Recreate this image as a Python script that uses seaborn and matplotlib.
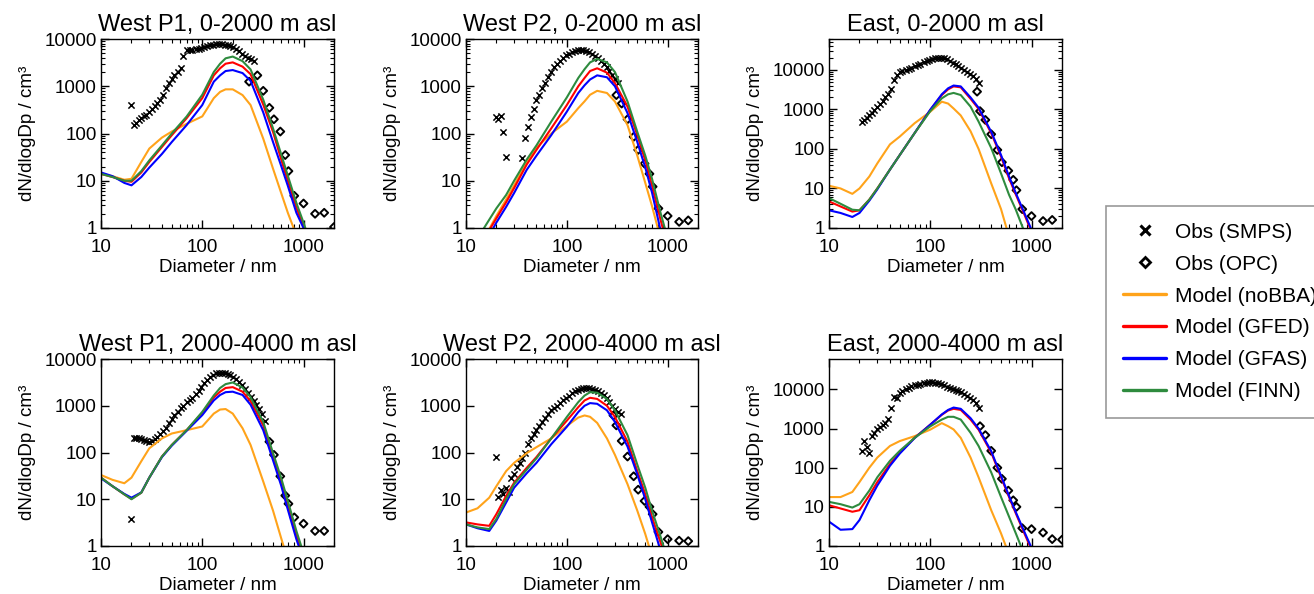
# Aerosol size distributions: observations vs model runs, 6 panels
import numpy as np
import matplotlib
matplotlib.use('Agg')
import matplotlib.pyplot as plt
from matplotlib.lines import Line2D
from matplotlib.ticker import NullFormatter
import seaborn as sns

nan = np.nan

# diameters (nm)
D_MODEL = [10, 13, 17, 20, 25, 30, 40, 50, 70, 100, 130, 150, 170, 200, 250, 300,
           400, 500, 600, 700, 850, 1000, 1200]
SMPS_D = [20, 21, 22, 23.5, 25, 26.5, 28, 30, 32, 34, 36, 38.5, 41, 44, 47, 50, 53, 57,
          61, 65, 70, 75, 80, 86, 92, 98, 105, 112, 120, 128, 137, 146, 156, 167, 178,
          190, 203, 217, 232, 248, 265, 283, 302, 322, 343, 365, 390, 415, 440]
OPC_D = [290, 310, 350, 400, 460, 510, 590, 660, 710, 810, 1000, 1300, 1600, 2000]

XTICKS = [10, 100, 1000]
YTICKS = [1, 10, 100, 1000, 10000]

MODEL_NAMES = ['Model (noBBA)', 'Model (GFED)', 'Model (GFAS)', 'Model (FINN)']
COLORS = ['#FFA31A', '#FF0000', '#0000FF', '#2E8B3E']

# West P1, 0-2000 m
W1_LO_NOBBA = [14, 12.5, 10.5, 11, 25, 48, 82, 110, 160, 230, 560, 760, 860, 860, 650, 400, 78, 18, 5.6, 2.1, 0.7, 0.3, 0.1]
W1_LO_GFED = [14, 12, 10, 9.5, 15, 25, 52, 92, 210, 560, 1700, 2400, 3000, 3200, 2600, 1800, 410, 108, 29, 10, 2.7, 1.1, 0.35]
W1_LO_GFAS = [15, 12.5, 9, 8, 12, 19, 37, 66, 150, 400, 1250, 1700, 2100, 2200, 1900, 1300, 280, 66, 21, 7.8, 2.1, 1.0, 0.3]
W1_LO_FINN = [14, 12, 10, 10, 16, 27, 56, 100, 228, 660, 2000, 3000, 3900, 4250, 3400, 2270, 520, 128, 37, 12.8, 3.4, 1.3, 0.4]
W1_LO_SMPS = [400, 150, 170, 190, 210, 230, 250, 290, 330, 390, 440, 520, 650, 900, 1150, 1400, 1700,
              2000, 2400, 4300, 5800, 5900, 5950, 6000, 6200, 6400, 6700, 7000, 7300, 7500, 7650,
              7700, 7700, 7600, 7400, 7100, 6700, 6100, 5500, 4900, 4400, 4000, 3700, 3500,
              nan, nan, nan, nan, nan]
W1_LO_OPC = [1250, nan, 1700, 800, 350, 200, 110, 35, 16, 4.8, 3.3, 2.0, 2.1, 1.05]

# West P2, 0-2000 m
W2_LO_NOBBA = [0.2, 0.4, 0.95, 1.8, 4, 8, 25, 50, 100, 178, 345, 480, 660, 800, 720, 475, 150, 34, 9, 2.9, 0.6, 0.2, 0.1]
W2_LO_GFED = [0.2, 0.4, 0.9, 1.6, 3.5, 7, 22, 45, 128, 400, 1000, 1500, 2100, 2400, 1940, 1170, 370, 92, 27, 7.8, 1.5, 0.4, 0.1]
W2_LO_GFAS = [0.15, 0.3, 0.7, 1.3, 2.8, 5.5, 17, 34, 92, 290, 720, 1050, 1390, 1700, 1550, 1000, 270, 66, 19, 5.6, 0.9, 0.3, 0.1]
W2_LO_FINN = [0.3, 0.6, 1.5, 2.6, 5, 10, 28, 56, 178, 580, 1500, 2300, 3200, 3800, 3200, 2000, 475, 108, 34, 11, 2.1, 0.6, 0.2]
W2_LO_SMPS = [220, 200, 230, 110, 32, nan, nan, nan, nan, nan, 30, 80, 140, 220, 330, 500, 650, 900,
              1200, 1550, 2000, 2500, 3000, 3500, 4000, 4500, 4900, 5300, 5600, 5800, 5900, 5900,
              5700, 5300, 4800, 4300, 3900, 3400, 2900, 2500, 2100, 1700, 1400, 1200,
              nan, nan, nan, nan, nan]
W2_LO_OPC = [nan, 650, 430, 200, 85, 45, 23, 14, 7.5, 2.6, 1.8, 1.35, 1.45, nan]

# East, 0-2000 m
E_LO_NOBBA = [11.7, 10, 7.3, 10, 20, 43, 130, 205, 445, 870, 1560, 1400, 1050, 700, 280, 100, 13.4, 3.0, 0.6, 0.2, 0.1, 0.1, 0.1]
E_LO_GFED = [4.7, 3.5, 2.6, 2.8, 5.2, 10, 30, 70, 250, 960, 2300, 3200, 3800, 3600, 1850, 1030, 250, 64, 18, 7, 2.2, 0.8, 0.3]
E_LO_GFAS = [2.8, 2.4, 1.9, 2.4, 4.9, 9.5, 30, 70, 250, 980, 2400, 3400, 4000, 3800, 2000, 1100, 270, 70, 20, 7.6, 2.4, 0.9, 0.3]
E_LO_FINN = [5.7, 4.1, 2.9, 2.8, 5.2, 10, 30, 70, 250, 900, 1900, 2400, 2600, 2300, 1170, 490, 105, 24, 6.9, 2.9, 0.8, 0.3, 0.1]
E_LO_SMPS = [nan, 490, 540, 620, 720, 820, 950, 1170, 1400, 1650, 2000, 2500, 3300, 5500, 7300, 8900,
             9400, 9900, 10300, 11200, 12300, 13300, 14300, 15300, 16300, 17300, 18500, 19500,
             20400, 20400, 19600, 18200, 16800, 15000, 13800, 12500, 11300, 10000, 8900, 7900,
             6800, 5700, 4700, nan, nan, nan, nan, nan, nan]
E_LO_OPC = [2800, 900, 540, 235, 94, 46, 28, 16.5, 9, 3, 2.0, 1.5, 1.6, nan]

# West P1, 2000-4000 m
W1_HI_NOBBA = [33, 26, 22, 29, 65, 123, 200, 255, 300, 360, 680, 830, 850, 680, 330, 145, 24, 5.7, 1.5, 0.5, 0.2, 0.1, 0.1]
W1_HI_GFED = [29, 19, 12.7, 10.2, 13.8, 29, 82, 145, 300, 700, 1500, 2000, 2400, 2500, 2000, 1250, 380, 82, 24, 7.5, 1.7, 0.6, 0.2]
W1_HI_GFAS = [28, 19, 13, 10.8, 14, 29, 80, 140, 290, 630, 1300, 1700, 1950, 2000, 1700, 1050, 300, 68, 20, 6, 1.4, 0.5, 0.2]
W1_HI_FINN = [29, 19, 12.7, 10, 13.8, 29, 82, 145, 300, 740, 1660, 2400, 2900, 3150, 2460, 1520, 450, 97, 29, 9.2, 2.1, 0.7, 0.2]
W1_HI_SMPS = [3.8, 200, 205, 200, 195, 185, 175, 170, 175, 190, 210, 250, 290, 340, 420, 520, 620, 750,
              880, 1000, 1200, 1350, 1500, 1750, 2100, 2500, 3000, 3500, 4100, 4600, 5000, 5100,
              5100, 5000, 4800, 4500, 4200, 3800, 3300, 2800, 2300, 1900, 1550, 1250, 1050, 850,
              650, 480, nan]
W1_HI_OPC = [nan, nan, nan, nan, 170, 89, 31, 12, 8, 4.1, 3.0, 2.1, 2.1, nan]

# West P2, 2000-4000 m
W2_HI_NOBBA = [5.2, 6.4, 10.8, 19, 40, 60, 97, 130, 200, 370, 560, 620, 580, 430, 200, 89, 21, 5.7, 1.8, 0.6, 0.2, 0.1, 0.1]
W2_HI_GFED = [3.2, 2.9, 2.7, 4.8, 11.8, 22.5, 47, 80, 200, 480, 935, 1300, 1480, 1400, 1000, 575, 170, 40, 12.8, 4.1, 1.2, 0.4, 0.1]
W2_HI_GFAS = [2.9, 2.4, 2.1, 3.5, 8.5, 17.6, 36, 60, 150, 355, 735, 1000, 1140, 1100, 800, 450, 134, 34, 10, 3.2, 0.8, 0.3, 0.1]
W2_HI_FINN = [2.9, 2.5, 2.3, 3.8, 10, 21, 43, 75, 200, 575, 1200, 1650, 1950, 1900, 1400, 800, 235, 55, 17.6, 5.7, 1.6, 0.5, 0.2]
W2_HI_SMPS = [82, 11, 16, 13, 17, 14, 28, 34, 48, 60, 75, 100, 150, 200, 250, 300, 360, 450, 550, 650,
              800, 900, 1000, 1150, 1300, 1450, 1650, 1850, 2050, 2200, 2300, 2350, 2350, 2350,
              2300, 2200, 2100, 1900, 1700, 1450, 1200, 1000, 870, 750, 650, nan, nan, nan, nan]
W2_HI_OPC = [620, 380, 177, 82, 31, 16, 9.2, 6.9, 4.8, 2.0, 1.4, 1.3, 1.27, nan]

# East, 2000-4000 m
E_HI_NOBBA = [17.8, 17.8, 24, 43, 100, 182, 360, 480, 640, 940, 1380, 1150, 950, 580, 182, 57, 8.2, 2.1, 0.6, 0.2, 0.1, 0.1, 0.1]
E_HI_GFED = [11, 9.1, 7.5, 8.2, 19.7, 43, 124, 245, 580, 1260, 2250, 2900, 3200, 3000, 1700, 940, 245, 57, 17.8, 6.8, 2.1, 0.8, 0.3]
E_HI_GFAS = [4.2, 2.6, 2.7, 4.6, 14.7, 35, 112, 230, 570, 1260, 2300, 3000, 3450, 3200, 1850, 1000, 265, 62, 19, 7.3, 2.3, 0.9, 0.3]
E_HI_FINN = [13.4, 11.7, 9.6, 11.7, 26, 57, 150, 270, 580, 1140, 1700, 2000, 2000, 1700, 780, 360, 76, 17.8, 5.6, 2.1, 0.6, 0.2, 0.1]
E_HI_SMPS = [nan, 270, 480, 330, 240, 640, 780, 950, 1080, 1250, 1400, 1800, 3300, 6500, 5900, 7900,
             9000, 10300, 11200, 12000, 12800, 13300, 13800, 14200, 14700, 15200, 15300, 15000,
             14500, 13800, 12800, 11800, 11000, 10300, 9800, 9200, 8600, 7700, 6700, 6000, 5400,
             4500, 3300, nan, nan, nan, nan, nan, nan]
E_HI_OPC = [nan, 1150, 680, 270, 100, 52, 26, 14.7, 10, 2.85, 2.7, 2.2, 1.5, 1.45]

# title, pixel box (left, top, right, bottom), y max, models, smps, opc
PANELS = [
    ('West P1, 0-2000 m asl', (101, 39, 334, 228), 1e4,
     [W1_LO_NOBBA, W1_LO_GFED, W1_LO_GFAS, W1_LO_FINN], W1_LO_SMPS, W1_LO_OPC),
    ('West P2, 0-2000 m asl', (466, 39, 698, 228), 1e4,
     [W2_LO_NOBBA, W2_LO_GFED, W2_LO_GFAS, W2_LO_FINN], W2_LO_SMPS, W2_LO_OPC),
    ('East, 0-2000 m asl', (829, 39, 1062, 228), 6e4,
     [E_LO_NOBBA, E_LO_GFED, E_LO_GFAS, E_LO_FINN], E_LO_SMPS, E_LO_OPC),
    ('West P1, 2000-4000 m asl', (101, 359, 334, 546), 1e4,
     [W1_HI_NOBBA, W1_HI_GFED, W1_HI_GFAS, W1_HI_FINN], W1_HI_SMPS, W1_HI_OPC),
    ('West P2, 2000-4000 m asl', (466, 359, 698, 546), 1e4,
     [W2_HI_NOBBA, W2_HI_GFED, W2_HI_GFAS, W2_HI_FINN], W2_HI_SMPS, W2_HI_OPC),
    ('East, 2000-4000 m asl', (829, 359, 1062, 546), 6e4,
     [E_HI_NOBBA, E_HI_GFED, E_HI_GFAS, E_HI_FINN], E_HI_SMPS, E_HI_OPC),
]

sns.set_theme(style='ticks', rc={'axes.edgecolor': 'black', 'text.color': 'black',
                                 'axes.labelcolor': 'black', 'xtick.color': 'black',
                                 'ytick.color': 'black'})
plt.rcParams['font.family'] = ['Liberation Sans', 'DejaVu Sans']

W, H = 1314, 594
fig = plt.figure(figsize=(W / 100, H / 100), dpi=100)

for title, (l, t, r, b), ytop, models, smps, opc in PANELS:
    ax = fig.add_axes([l / W, 1 - b / H, (r - l) / W, (b - t) / H])
    for vals, col in zip(models, COLORS):
        sns.lineplot(x=D_MODEL, y=vals, color=col, lw=1.5, ax=ax, estimator=None, sort=False)
    sns.scatterplot(x=SMPS_D, y=smps, marker='x', s=20, color='black', linewidth=1.1, ax=ax)
    sns.scatterplot(x=OPC_D, y=opc, marker='D', s=16, color='black', facecolor='none',
                    edgecolor='black', linewidth=1.4, ax=ax)
    ax.set_xscale('log')
    ax.set_yscale('log')
    ax.set_xlim(10, 2000)
    ax.set_ylim(1, ytop)
    ax.set_xticks(XTICKS)
    ax.set_xticklabels([str(v) for v in XTICKS])
    ax.set_yticks(YTICKS)
    ax.set_yticklabels([str(v) for v in YTICKS])
    ax.xaxis.set_minor_formatter(NullFormatter())
    ax.yaxis.set_minor_formatter(NullFormatter())
    ax.tick_params(which='both', direction='in', top=True, right=True)
    ax.tick_params(which='major', length=6, width=1)
    ax.tick_params(which='minor', length=3, width=0.8)
    ax.tick_params(axis='x', pad=8, labelsize=13.5)
    ax.tick_params(axis='y', pad=3, labelsize=13.5)
    for sp in ax.spines.values():
        sp.set_linewidth(1.0)
        sp.set_color('black')
    ax.set_xlabel('Diameter / nm', fontsize=13.5, labelpad=2)
    ax.set_ylabel('dN/dlogDp / cm³', fontsize=13.5, labelpad=6)
    ax.set_title(title, fontsize=17, pad=6)

handles = [Line2D([], [], ls='none', marker='x', color='black', ms=7, mew=2.2),
           Line2D([], [], ls='none', marker='D', mfc='none', mec='black', ms=5.5, mew=2)]
handles += [Line2D([], [], color=c, lw=2.4) for c in COLORS]
labels = ['Obs (SMPS)', 'Obs (OPC)'] + MODEL_NAMES
leg = fig.legend(handles, labels, loc='upper left', bbox_to_anchor=(1106 / W, 1 - 206 / H),
                 frameon=True, fancybox=False, edgecolor='#999999', framealpha=1,
                 fontsize=15, handlelength=2.1, handletextpad=0.4, labelspacing=0.62,
                 borderpad=0.8, borderaxespad=0)
leg.get_frame().set_linewidth(1.2)

fig.savefig('out.png', dpi=100)
